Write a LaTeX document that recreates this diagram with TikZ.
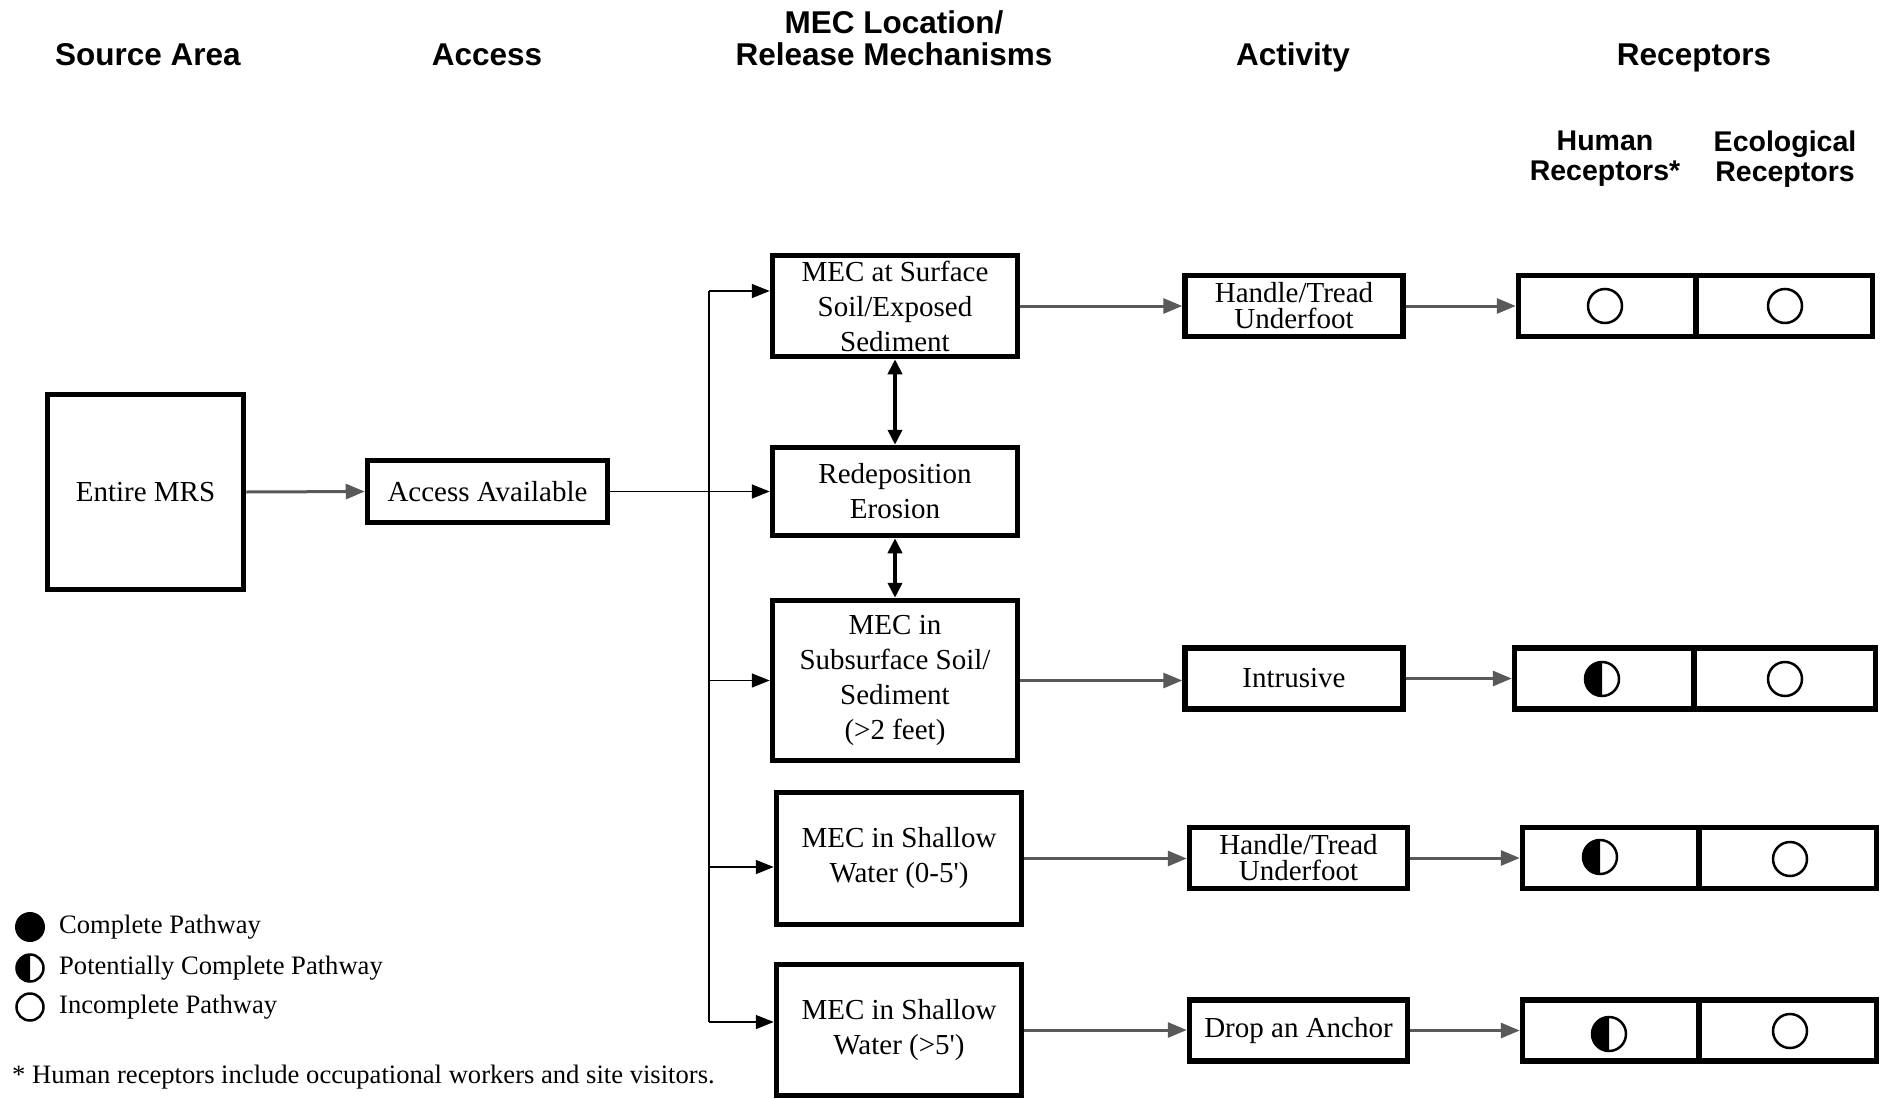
\documentclass[tikz,border=0pt]{standalone}
\usepackage{fontspec}
\setmainfont{Liberation Serif}
\setsansfont{Liberation Sans}
\usetikzlibrary{arrows.meta,calc}
\newcommand\hmark[1]{%
  \begin{scope}
    \clip ($(#1.center)+(-25,-25)$) rectangle ($(#1.center)+(0,25)$);
    \fill (#1.center) circle (17.5pt);
  \end{scope}}
\begin{document}
\begin{tikzpicture}[x=1pt,y=-1pt,
  box/.style={draw, line width=5.5pt, inner sep=0pt, align=center, font=\fontsize{29}{35}\selectfont},
  tight/.style={font=\fontsize{29}{26}\selectfont},
  hdr/.style={font=\sffamily\bfseries\fontsize{31.5}{32}\selectfont, align=center, inner sep=0pt},
  sub/.style={font=\sffamily\bfseries\fontsize{28.5}{30}\selectfont, align=center, inner sep=0pt},
  legend/.style={font=\fontsize{26.6}{30}\selectfont, inner sep=0pt, anchor=west},
  garrow/.style={draw=black!65, line width=3pt, -{Triangle[length=19pt,width=15pt]}},
  barrow/.style={draw=black, line width=1.5pt, -{Triangle[length=18pt,width=14pt]}},
  darrow/.style={draw=black, line width=4pt, {Triangle[length=15pt,width=14pt]}-{Triangle[length=15pt,width=14pt]}},
  ring/.style={circle, draw, line width=2.5pt, minimum size=34pt, inner sep=0pt},
]
\useasboundingbox[fill=white] (0,0) rectangle (1891,1100);

% headers
\node[hdr, anchor=base] (h1) at (148,65) {Source Area};
\node[hdr, anchor=base] (h2) at (487,65) {Access};
\node[hdr] (h3) at (894,38) {MEC Location/\\Release Mechanisms};
\node[hdr, anchor=base] (h4) at (1293,65) {Activity};
\node[hdr, anchor=base] (h5) at (1694,65) {Receptors};
\node[sub] (s1) at (1605,159) {Human\\Receptors*};
\node[sub] (s2) at (1785,159) {Ecological\\Receptors};

% source and access
\node[box, minimum width=196, minimum height=195] (src) at (145.5,492) {Entire MRS};
\node[box, minimum width=240, minimum height=62] (acc) at (487.5,491.5) {Access Available};

% MEC boxes
\node[box, minimum width=245, minimum height=101] (m1) at (895,306) {MEC at Surface\\Soil/Exposed\\Sediment};
\node[box, minimum width=245, minimum height=88] (m2) at (895,491.5) {Redeposition\\Erosion};
\node[box, minimum width=245, minimum height=160] (m3) at (895,680.5) {MEC in\\Subsurface Soil/\\Sediment\\(>2 feet)};
\node[box, minimum width=245, minimum height=132] (m4) at (899,858.5) {MEC in Shallow\\Water (0-5\textquotesingle)};
\node[box, minimum width=245, minimum height=131] (m5) at (899,1030) {MEC in Shallow\\Water (>5\textquotesingle)};

% activity boxes
\node[box, tight, minimum width=218, minimum height=61] (a1) at (1294,306) {Handle/Tread\\Underfoot};
\node[box, minimum width=218, minimum height=61] (a2) at (1294,678.5) {Intrusive};
\node[box, tight, minimum width=218, minimum height=61] (a3) at (1298.5,858) {Handle/Tread\\Underfoot};
\node[box, minimum width=218, minimum height=61] (a4) at (1298.5,1030.5) {Drop an Anchor};

% receptor cells
\node[box, minimum width=177.5, minimum height=61] (r1h) at (1607.25,306) {};
\node[box, minimum width=176.5, minimum height=61] (r1e) at (1784.25,306) {};
\node[box, minimum width=179.5, minimum height=61] (r2h) at (1604.25,678.5) {};
\node[box, minimum width=181.5, minimum height=61] (r2e) at (1784.75,678.5) {};
\node[box, minimum width=176.5, minimum height=61] (r3h) at (1610.75,858) {};
\node[box, minimum width=177.5, minimum height=61] (r3e) at (1787.75,858) {};
\node[box, minimum width=176.5, minimum height=61] (r4h) at (1610.75,1030.5) {};
\node[box, minimum width=177.5, minimum height=61] (r4e) at (1787.75,1030.5) {};

% pathway symbols
\node[ring] (c1h) at (1605,306) {};
\node[ring] (c1e) at (1785,306) {};
\node[ring] (c2h) at (1602,679) {};
\hmark{c2h}
\node[ring] (c2e) at (1785,679) {};
\node[ring] (c3h) at (1600,857) {};
\hmark{c3h}
\node[ring] (c3e) at (1790,859) {};
\node[ring] (c4h) at (1609,1034) {};
\hmark{c4h}
\node[ring] (c4e) at (1790,1031) {};

% bus
\coordinate (bt) at (709,291);
\coordinate (b4) at (709,867);
\coordinate (bb) at (709,1022);
\draw[line width=1.5pt] (bt) -- (bb);
\draw[barrow] (bt) -- (bt -| m1.west);
\draw[barrow] (acc.east) -- (m2.west);
\draw[barrow] (bt |- m3.west) -- (m3.west);
\draw[barrow] (b4) -- (b4 -| m4.west);
\draw[barrow] (bb) -- (bb -| m5.west);

% double arrows
\draw[darrow] (m1.south) -- (m2.north);
\draw[darrow] (m2.south) -- (m3.north);

% gray arrows
\draw[garrow] (src.east) -- (acc.west);
\draw[garrow] (m1.east) -- (a1.west);
\draw[garrow] (m3.east) -- (m3.east -| a2.west);
\draw[garrow] (m4.east) -- (m4.east -| a3.west);
\draw[garrow] (m5.east) -- (m5.east -| a4.west);
\draw[garrow] (a1.east) -- (r1h.west);
\draw[garrow] (a2.east) -- (r2h.west);
\draw[garrow] (a3.east) -- (r3h.west);
\draw[garrow] (a4.east) -- (r4h.west);

% legend
\node[circle, fill, minimum size=30pt, inner sep=0pt] (l1) at (30,927) {};
\node[circle, draw, line width=2.5pt, minimum size=27pt, inner sep=0pt] (l2) at (30,968) {};
\begin{scope}
  \clip ($(l2.center)+(-20,-20)$) rectangle ($(l2.center)+(0,20)$);
  \fill (l2.center) circle (14pt);
\end{scope}
\node[circle, draw, line width=2.5pt, minimum size=27pt, inner sep=0pt] (l3) at (30,1007) {};
\node[legend] (t1) at (59,927) {Complete Pathway};
\node[legend] (t2) at (59,968) {Potentially Complete Pathway};
\node[legend] (t3) at (59,1007) {Incomplete Pathway};
\node[legend] (fn) at (12,1077) {* Human receptors include occupational workers and site visitors.};
\end{tikzpicture}
\end{document}
